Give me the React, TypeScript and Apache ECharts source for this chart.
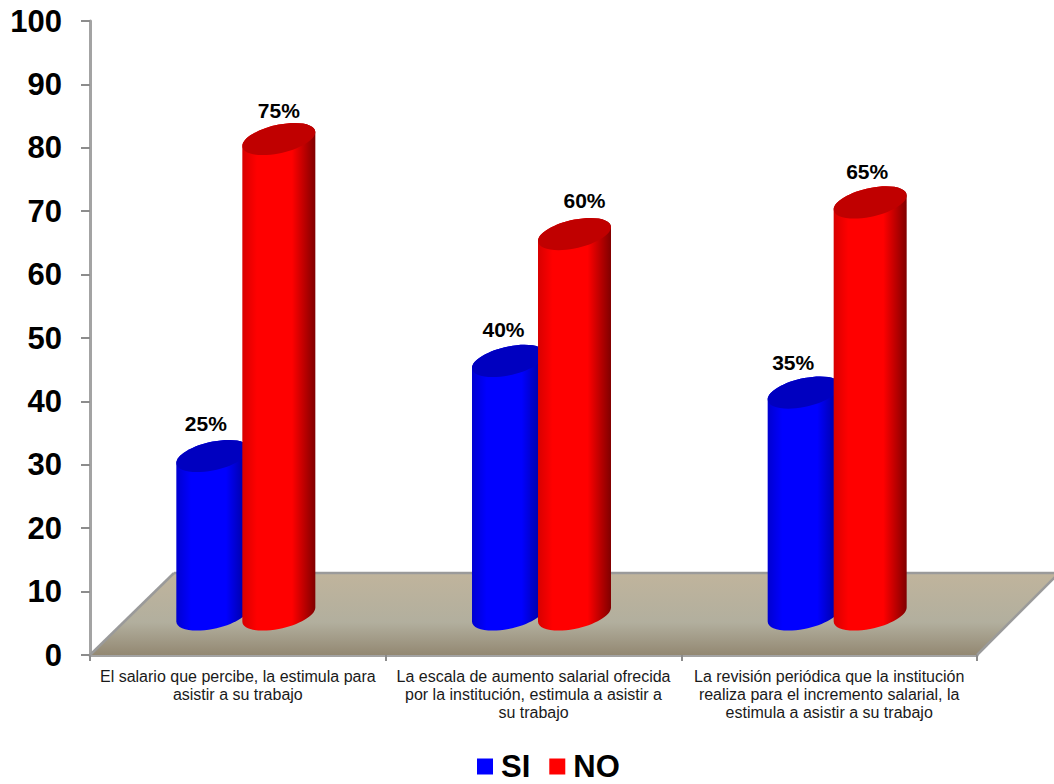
import React, { useEffect, useRef } from "react";
import * as echarts from "echarts";

const categories = [
  "El salario que percibe, la estimula para\nasistir a su trabajo",
  "La escala de aumento salarial ofrecida\npor la institución, estimula a asistir a\nsu trabajo",
  "La revisión periódica que la institución\nrealiza para el incremento salarial, la\nestimula a asistir a su trabajo",
];
const siValues = [25, 40, 35];
const noValues = [75, 60, 65];
const yTicks = { min: 0, max: 100, interval: 10 };

const FONT = '"Liberation Sans", Arial, sans-serif';
const KAPPA = 0.5523;

// Geometry of the pseudo-3D stage, in pixels
const BAR_W = 73;
const BAR_STEP = 66;
const PAIR_SHIFT = 8;
const BASE_LIFT = 40.5;
const CAP_B = 14.5;
const CAP_SHEAR = 7;
const FLOOR_LEFT_DX = 84;
const FLOOR_RIGHT_DX = 82;
const FLOOR_DY = 82;

// Hand-placed label nudges per category, [dx, dy] from the top of each cylinder
const siLabelNudge = [[-7, -33], [-5, -31], [-11, -30]];
const noLabelNudge = [[0, -29], [10, -34], [-3, -31]];

function cylinderPaths(cx: number, yTop: number, yBase: number) {
  const a = BAR_W / 2;
  const pt = (cy: number, u: number, v: number) =>
    `${(cx + a * u).toFixed(2)} ${(cy + CAP_B * v - CAP_SHEAR * u).toFixed(2)}`;
  const lowerHalf = (cy: number) =>
    `C${pt(cy, -1, KAPPA)} ${pt(cy, -KAPPA, 1)} ${pt(cy, 0, 1)} C${pt(cy, KAPPA, 1)} ${pt(cy, 1, KAPPA)} ${pt(cy, 1, 0)}`;
  const upperBack = (cy: number) =>
    `C${pt(cy, 1, -KAPPA)} ${pt(cy, KAPPA, -1)} ${pt(cy, 0, -1)} C${pt(cy, -KAPPA, -1)} ${pt(cy, -1, -KAPPA)} ${pt(cy, -1, 0)}`;
  return {
    body: `M${pt(yTop, -1, 0)} L${pt(yBase, -1, 0)} ${lowerHalf(yBase)} L${pt(yTop, 1, 0)} ${upperBack(yTop)} Z`,
    cap: `M${pt(yTop, -1, 0)} ${lowerHalf(yTop)} ${upperBack(yTop)} Z`,
  };
}

function shadedFill(edgeL: string, main: string, edgeR: string) {
  return {
    type: "linear", x: 0, y: 0, x2: 1, y2: 0,
    colorStops: [
      { offset: 0, color: edgeL },
      { offset: 0.2, color: main },
      { offset: 0.68, color: main },
      { offset: 1, color: edgeR },
    ],
  };
}

function cylinderSeries(
  name: string,
  values: number[],
  side: number,
  main: string,
  edgeL: string,
  edgeR: string,
  capColor: string,
  nudges: number[][],
) {
  return {
    type: "custom",
    name,
    z: 3,
    itemStyle: { color: main },
    encode: { x: 0, y: 1 },
    data: values.map((v, i) => [i, v]),
    renderItem: (_: unknown, api: any) => {
      const i = api.value(0);
      const v = api.value(1);
      const [xc, yZero] = api.coord([i, 0]);
      const yVal = api.coord([i, v])[1];
      const cx = xc + PAIR_SHIFT + (side * BAR_STEP) / 2;
      const yBase = yZero - BASE_LIFT;
      const yTop = yVal - BASE_LIFT;
      const { body, cap } = cylinderPaths(cx, yTop, yBase);
      return {
        type: "group",
        children: [
          { type: "path", shape: { pathData: body }, style: { fill: shadedFill(edgeL, main, edgeR) } },
          { type: "path", shape: { pathData: cap }, style: { fill: capColor } },
          {
            type: "text",
            z2: 10,
            style: {
              x: cx + nudges[i][0],
              y: yTop + nudges[i][1],
              text: `${v}%`,
              fill: "#000",
              fontFamily: FONT,
              fontSize: 21,
              fontWeight: "bold",
              textAlign: "center",
              textVerticalAlign: "middle",
            },
          },
        ],
      };
    },
  };
}

const floorSeries = {
  type: "custom",
  name: "piso",
  z: 1,
  silent: true,
  data: [[0, 0]],
  encode: { x: 0, y: 1 },
  renderItem: (params: any, api: any) => {
    const cs = params.coordSys;
    const x0 = cs.x;
    const x1 = cs.x + cs.width;
    const y0 = cs.y + cs.height;
    const yb = y0 - FLOOR_DY;
    const edge = { stroke: "#9a9a9a", lineWidth: 2.5 };
    return {
      type: "group",
      children: [
        {
          type: "polygon",
          shape: { points: [[x0, y0], [x0 + FLOOR_LEFT_DX, yb], [x1 + FLOOR_RIGHT_DX, yb], [x1, y0]] },
          style: {
            fill: {
              type: "linear", x: 0, y: 0, x2: 0, y2: 1,
              colorStops: [
                { offset: 0, color: "#c0b49c" },
                { offset: 0.6, color: "#b2af9e" },
                { offset: 1, color: "#938872" },
              ],
            },
          },
        },
        { type: "line", shape: { x1: x0, y1: y0, x2: x0 + FLOOR_LEFT_DX, y2: yb }, style: edge },
        { type: "line", shape: { x1: x0 + FLOOR_LEFT_DX, y1: yb, x2: x1 + FLOOR_RIGHT_DX, y2: yb }, style: edge },
        { type: "line", shape: { x1: x1, y1: y0, x2: x1 + FLOOR_RIGHT_DX, y2: yb }, style: edge },
      ],
    };
  },
};

export default function App() {
  const ref = useRef<HTMLDivElement>(null);

  useEffect(() => {
    const chart = echarts.init(ref.current!, undefined, { renderer: "svg" });
    const axisLine = { show: true, lineStyle: { color: "#a3a3a3", width: 3 } };
    chart.setOption({
      animation: false,
      backgroundColor: "#ffffff",
      grid: { left: 90, right: 77, top: 21, bottom: 129, containLabel: false },
      xAxis: {
        type: "category",
        data: categories,
        boundaryGap: true,
        axisLine,
        axisTick: { show: true, alignWithLabel: false, length: 6, lineStyle: { color: "#8c8c8c", width: 2 } },
        axisLabel: {
          interval: 0,
          margin: 12,
          color: "#1a1a1a",
          fontFamily: FONT,
          fontSize: 16,
          lineHeight: 18,
          align: "center",
          width: 296,
          overflow: "none",
        },
      },
      yAxis: {
        type: "value",
        ...yTicks,
        splitLine: { show: false },
        axisLine,
        axisTick: { show: true, length: 9, lineStyle: { color: "#8c8c8c", width: 2 } },
        axisLabel: { margin: 28, color: "#000", fontFamily: FONT, fontSize: 31, fontWeight: "bold" },
      },
      legend: {
        data: ["SI", "NO"],
        left: 477,
        top: 751,
        icon: "rect",
        itemWidth: 16,
        itemHeight: 16,
        itemGap: 19,
        padding: 0,
        selectedMode: false,
        textStyle: {
          color: "#000",
          fontFamily: FONT,
          fontSize: 31,
          lineHeight: 26,
          fontWeight: "bold",
          padding: [0, 0, 0, 3],
        },
      },
      series: [
        floorSeries,
        cylinderSeries("SI", siValues, -1, "#0000ff", "#0000d0", "#000090", "#0000c0", siLabelNudge),
        cylinderSeries("NO", noValues, 1, "#ff0000", "#d80000", "#800000", "#c00000", noLabelNudge),
      ],
    });
    return () => chart.dispose();
  }, []);

  return <div ref={ref} style={{ position: "fixed", left: 0, top: 0, width: 1054, height: 784 }} />;
}
